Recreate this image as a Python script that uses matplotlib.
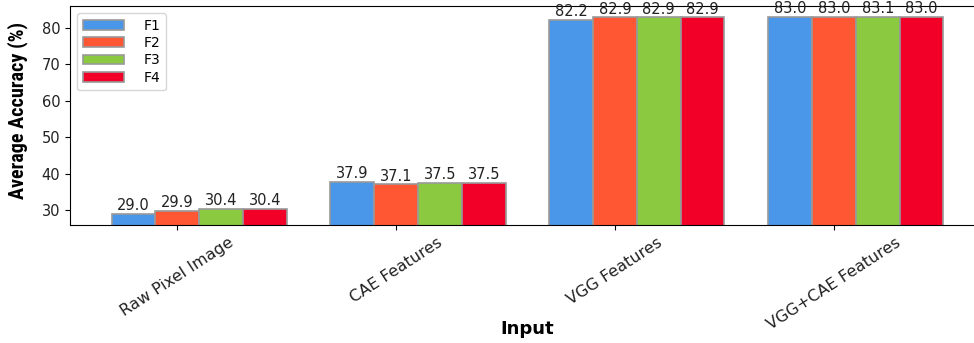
import matplotlib
matplotlib.use("Agg")
import matplotlib.pyplot as plt
from matplotlib import font_manager
import numpy as np

categories = ["Raw Pixel Image", "CAE Features", "VGG Features", "VGG+CAE Features"]
series_names = ["F1", "F2", "F3", "F4"]
F1 = [29.0, 37.9, 82.2, 83.0]
F2 = [29.9, 37.1, 82.9, 83.0]
F3 = [30.4, 37.5, 82.9, 83.1]
F4 = [30.4, 37.5, 82.9, 83.0]
series = [F1, F2, F3, F4]
colors = ["#4a96e8", "#ff5733", "#8bc940", "#f20028"]

names = {f.name for f in font_manager.fontManager.ttflist}
narrow = None
for cand in ["Liberation Sans Narrow", "Roboto Condensed", "Open Sans Condensed",
             "DejaVu Sans Condensed", "Noto Sans Condensed"]:
    if cand in names:
        narrow = cand
        break

fig = plt.figure(figsize=(9.74, 3.43), dpi=100)
ax = fig.add_axes([70/974, (343-225)/343, (974-70)/974, 219/343])

x = np.arange(len(categories))
w = 0.2
for i, (name, vals, c) in enumerate(zip(series_names, series, colors)):
    bars = ax.bar(x + (i - 1) * w, vals, w, label=name, color=c,
                  edgecolor="#999999", linewidth=1.2)
    for b, v in zip(bars, vals):
        ax.text(b.get_x() + b.get_width()/2, v + 0.2, f"{v:.1f}",
                ha="center", va="bottom", fontsize=10.5, color="#222222")

ax.set_xlim(-0.49, 3.64)
ax.set_ylim(26, 86)
ax.set_yticks([30, 40, 50, 60, 70, 80])
ax.set_xticks(x)
ax.set_xticklabels(categories, rotation=33, ha="center", fontsize=11.5, color="#222222")
ax.tick_params(axis="y", labelsize=10.5, labelcolor="#222222")
ax.spines["right"].set_visible(False)
if narrow:
    ylab_kw = dict(family=narrow, fontsize=14.5)
else:
    ylab_kw = dict(fontsize=12)
fig.text(18/974, (343-110)/343, "Average Accuracy (%)", rotation=90,
         ha="center", va="center", fontweight="bold", **ylab_kw)
fig.text(527/974, (343-329)/343, "Input", ha="center", va="center",
         fontsize=13, fontweight="bold")
ax.legend(loc="upper left", fontsize=10, handlelength=3.0, borderpad=0.4,
          labelspacing=0.25, handletextpad=1.4)

fig.savefig("out.png", dpi=100)
